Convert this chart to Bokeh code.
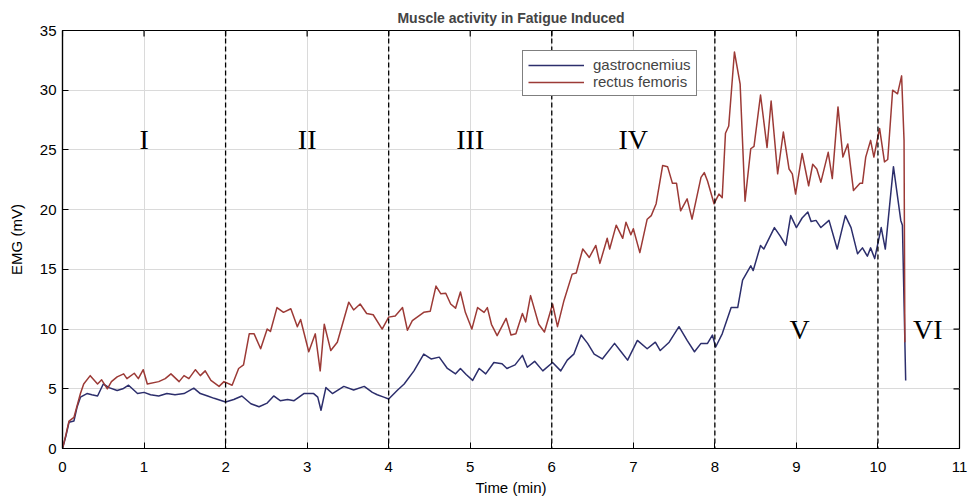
from bokeh.plotting import figure
from bokeh.models import Span, Legend, LegendItem, FixedTicker, Range1d
from bokeh.embed import file_html
from bokeh.resources import INLINE
from bokeh.core.properties import value

# ---------------- data ----------------
gastro_t = [0, 0.04, 0.08, 0.14, 0.18, 0.22, 0.30, 0.36, 0.43, 0.50,
            0.57, 0.67, 0.74, 0.81, 0.92, 1.00, 1.08, 1.18, 1.28, 1.38,
            1.49, 1.61, 1.69, 1.78, 1.86, 2.00, 2.10, 2.20, 2.31, 2.41,
            2.51, 2.59, 2.67, 2.76, 2.84, 2.96, 3.08, 3.13, 3.17, 3.23,
            3.31, 3.45, 3.57, 3.70, 3.80, 3.86, 3.94, 4.00, 4.11, 4.19,
            4.31, 4.43, 4.52, 4.62, 4.72, 4.82, 4.88, 4.95, 5.03, 5.11,
            5.19, 5.29, 5.39, 5.45, 5.55, 5.64, 5.70, 5.79, 5.89, 6.01,
            6.11, 6.19, 6.27, 6.36, 6.44, 6.52, 6.62, 6.77, 6.85, 6.93,
            7.05, 7.17, 7.27, 7.33, 7.44, 7.56, 7.66, 7.75, 7.83, 7.91,
            7.97, 8.01, 8.09, 8.20, 8.28, 8.34, 8.44, 8.47, 8.56, 8.60,
            8.73, 8.80, 8.87, 8.93, 9.00, 9.07, 9.14, 9.18, 9.24, 9.30,
            9.40, 9.50, 9.60, 9.67, 9.75, 9.81, 9.87, 9.91, 9.96, 10.04,
            10.09, 10.19, 10.28, 10.30, 10.34]
gastro_v = [0, 1.0, 2.2, 2.3, 3.5, 4.3, 4.6, 4.5, 4.4, 5.4,
            5.1, 4.85, 5.0, 5.3, 4.6, 4.7, 4.5, 4.4, 4.6, 4.5,
            4.6, 5.05, 4.6, 4.4, 4.2, 3.9, 4.1, 4.4, 3.75, 3.5,
            3.8, 4.4, 4.0, 4.1, 4.0, 4.6, 4.6, 4.3, 3.2, 5.1,
            4.6, 5.2, 4.9, 5.2, 4.7, 4.5, 4.3, 4.15, 4.9, 5.4,
            6.5, 7.9, 7.5, 7.65, 6.7, 6.25, 6.7, 6.2, 5.7, 6.7,
            6.25, 7.2, 7.1, 6.7, 7.0, 7.8, 6.8, 7.3, 6.5, 7.2,
            6.5, 7.4, 7.9, 9.5, 8.8, 7.9, 7.5, 8.8, 8.1, 7.4,
            9.05, 8.35, 8.9, 8.2, 8.9, 10.2, 9.05, 8.1, 8.8, 8.8,
            9.5, 8.5, 9.6, 11.8, 11.8, 14.1, 15.3, 14.9, 17.0, 16.7,
            18.5, 17.8, 17.0, 19.5, 18.5, 19.3, 19.8, 19.0, 19.1, 18.5,
            19.1, 16.7, 19.5, 18.5, 16.3, 16.8, 16.1, 16.8, 15.9, 18.5,
            16.7, 23.6, 19.1, 18.7, 5.7]

rectus_t = [0, 0.04, 0.08, 0.14, 0.22, 0.26, 0.34, 0.43, 0.48, 0.55,
            0.60, 0.67, 0.75, 0.79, 0.88, 0.93, 0.99, 1.04, 1.18, 1.26,
            1.33, 1.43, 1.49, 1.55, 1.63, 1.69, 1.75, 1.82, 1.92, 1.98,
            2.08, 2.16, 2.22, 2.29, 2.35, 2.43, 2.51, 2.55, 2.63, 2.71,
            2.80, 2.88, 2.92, 3.02, 3.10, 3.16, 3.21, 3.29, 3.37, 3.51,
            3.57, 3.65, 3.73, 3.81, 3.92, 4.00, 4.08, 4.17, 4.23, 4.29,
            4.43, 4.51, 4.58, 4.64, 4.70, 4.76, 4.82, 4.88, 4.94, 5.02,
            5.09, 5.17, 5.21, 5.26, 5.33, 5.44, 5.50, 5.56, 5.64, 5.68,
            5.74, 5.84, 5.91, 6.01, 6.07, 6.15, 6.25, 6.30, 6.38, 6.46,
            6.54, 6.59, 6.68, 6.71, 6.79, 6.87, 6.91, 6.97, 7.00, 7.08,
            7.17, 7.22, 7.28, 7.36, 7.42, 7.48, 7.53, 7.58, 7.66, 7.72,
            7.83, 7.87, 7.91, 7.99, 8.05, 8.09, 8.13, 8.17, 8.24, 8.31,
            8.37, 8.44, 8.48, 8.56, 8.64, 8.69, 8.77, 8.84, 8.91, 8.95,
            8.99, 9.07, 9.15, 9.20, 9.25, 9.30, 9.39, 9.44, 9.51, 9.57,
            9.63, 9.70, 9.78, 9.81, 9.85, 9.91, 9.95, 10.02, 10.08, 10.12,
            10.18, 10.24, 10.29, 10.32, 10.33]
rectus_v = [0, 1.1, 2.3, 2.6, 4.6, 5.4, 6.1, 5.4, 5.75, 5.0,
            5.6, 6.0, 6.25, 5.85, 6.3, 5.85, 6.6, 5.4, 5.6, 5.85,
            6.25, 5.6, 6.1, 5.85, 6.6, 6.1, 6.5, 5.7, 5.2, 5.6,
            5.3, 6.7, 7.0, 9.6, 9.6, 8.35, 10.0, 9.8, 11.8, 11.4,
            11.7, 10.2, 10.8, 8.1, 9.6, 6.5, 10.4, 8.2, 8.9, 12.25,
            11.6, 12.1, 11.3, 11.2, 10.0, 11.0, 11.1, 11.8, 9.9, 10.7,
            11.4, 11.5, 13.6, 12.95, 13.0, 12.1, 11.75, 13.1, 11.4, 10.0,
            11.8, 11.4, 11.8, 10.4, 9.45, 10.9, 9.5, 9.6, 11.3, 10.6,
            12.8, 10.4, 9.75, 12.1, 10.2, 12.4, 14.6, 14.7, 16.7, 16.0,
            17.0, 15.5, 17.6, 16.7, 18.7, 17.6, 18.95, 17.9, 18.4, 16.4,
            19.2, 19.5, 20.5, 23.7, 23.6, 22.2, 22.2, 19.9, 20.9, 19.2,
            22.7, 23.1, 22.4, 20.5, 21.3, 21.0, 26.4, 27.0, 33.2, 30.5,
            20.7, 25.1, 25.3, 29.6, 25.2, 29.1, 23.0, 26.5, 23.4, 23.0,
            21.3, 24.7, 22.0, 23.8, 23.4, 22.3, 24.8, 22.6, 28.6, 24.4,
            25.5, 21.6, 22.2, 22.2, 24.4, 25.8, 24.4, 26.8, 24.0, 24.2,
            30.0, 29.7, 31.2, 25.8, 8.9]

phase_bounds = [2, 4, 6, 8, 10]
phase_names = ["I", "II", "III", "IV", "V", "VI"]
phase_label_x = [1, 3, 5, 7, 9.04, 10.61]
phase_label_y = [25.9, 25.9, 25.9, 25.9, 10.0, 10.0]

x_ticks = list(range(0, 12))
y_ticks = list(range(0, 36, 5))
series_names = ["gastrocnemius", "rectus femoris"]
series_colors = ["#2c2e6c", "#9c3a36"]

FONT = "Liberation Sans"
X0, X1, Y0, Y1 = 0, 11, 0, 35
FW, FH = 897, 418
TICK_PX = 6

p = figure(frame_width=FW, frame_height=FH, output_backend="svg", toolbar_location=None,
           x_range=Range1d(X0, X1), y_range=Range1d(Y0, Y1),
           min_border_left=62, min_border_right=9, min_border_top=30, min_border_bottom=50,
           background_fill_color="white", border_fill_color="white")

p.title.text = "Muscle activity in Fatigue Induced"
p.title.align = "center"
p.title.text_font = FONT
p.title.text_font_size = "14px"
p.title.text_font_style = "bold"
p.title.standoff = 10

p.outline_line_color = "black"
p.outline_line_width = 1.2

for ax in (p.xaxis[0], p.yaxis[0]):
    ax.major_tick_in = TICK_PX
    ax.major_tick_out = 0
    ax.minor_tick_line_color = None
    ax.axis_line_color = "black"
    ax.axis_line_width = 1.2
    ax.major_tick_line_color = "black"
    ax.major_label_text_font = FONT
    ax.major_label_text_font_size = "15px"
    ax.major_label_text_color = "black"
    ax.axis_label_text_font = FONT
    ax.axis_label_text_font_size = "15px"
    ax.axis_label_text_font_style = "normal"
    ax.axis_label_text_color = "black"

p.xaxis.ticker = FixedTicker(ticks=x_ticks)
p.yaxis.ticker = FixedTicker(ticks=y_ticks)
p.xaxis.axis_label = "Time (min)"
p.yaxis.axis_label = "EMG (mV)"
p.xaxis.major_label_standoff = 13
p.xaxis.axis_label_standoff = 4
p.yaxis.major_label_standoff = 6
p.yaxis.axis_label_standoff = 12

p.xgrid.ticker = FixedTicker(ticks=x_ticks)
p.ygrid.ticker = FixedTicker(ticks=y_ticks)
p.grid.grid_line_color = "#dadada"
p.grid.grid_line_width = 1

# inward ticks on the top and right edges of the box (MATLAB style)
dy = TICK_PX * (Y1 - Y0) / FH
dx = TICK_PX * (X1 - X0) / FW
p.segment(x0=x_ticks, y0=[Y1] * len(x_ticks), x1=x_ticks, y1=[Y1 - dy] * len(x_ticks),
          line_color="black", line_width=1.2)
p.segment(x0=[X1] * len(y_ticks), y0=y_ticks, x1=[X1 - dx] * len(y_ticks), y1=y_ticks,
          line_color="black", line_width=1.2)

for b in phase_bounds:
    p.add_layout(Span(location=b, dimension="height", line_color="black",
                      line_dash="5 3", line_width=1.3))

r1 = p.line(gastro_t, gastro_v, line_color=series_colors[0], line_width=1.5,
            line_join="round")
r2 = p.line(rectus_t, rectus_v, line_color=series_colors[1], line_width=1.5,
            line_join="round")

p.text(x=phase_label_x, y=phase_label_y, text=phase_names,
       text_font=value("Liberation Serif"), text_font_size="28px",
       text_align="center", text_baseline="middle", text_color="black")

legend = Legend(items=[LegendItem(label=series_names[0], renderers=[r1]),
                       LegendItem(label=series_names[1], renderers=[r2])],
                location=(460, 352), border_line_color="black", border_line_width=1.2,
                padding=5, margin=0, spacing=0, label_height=14, glyph_height=14,
                glyph_width=56, label_standoff=9, label_text_font=FONT,
                label_text_font_size="15px", background_fill_alpha=1)
p.add_layout(legend)

open("out.html", "w").write(file_html(p, INLINE))
